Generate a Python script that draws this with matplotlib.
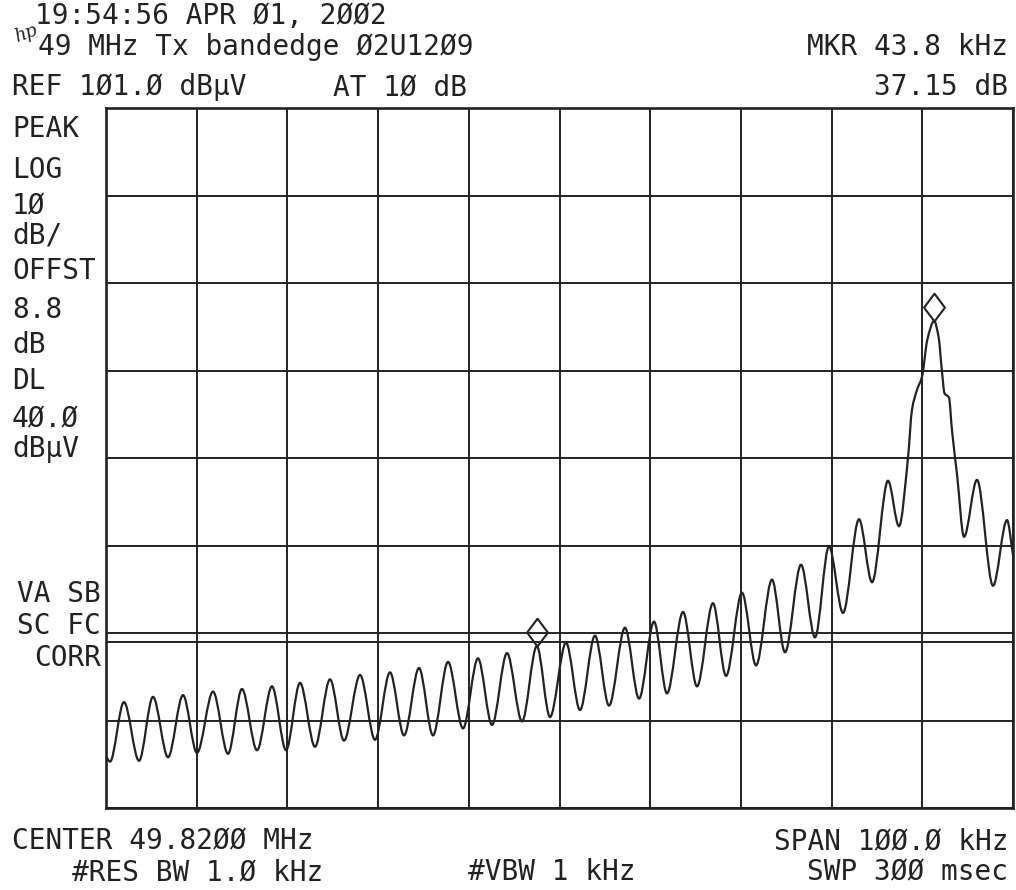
import numpy as np
import matplotlib
matplotlib.use("Agg")
import matplotlib.pyplot as plt
from matplotlib.path import Path
from matplotlib.patches import PathPatch
from matplotlib.markers import MarkerStyle

plt.rcParams['font.family'] = ['DejaVu Sans Mono', 'DejaVu Sans']

# screen settings (offset from centre frequency in kHz, level in dBuV)
span_khz = 100.0
ref_level = 101.0
db_per_div = 10.0
n_ydiv = 8
display_line = 40.0

# trace, extrema plus a few points around the main lobe
trace_freq = [-50.0, -49.56, -48.02, -46.36, -44.82, -43.16, -41.51, -39.97, -38.20, -36.55,
              -35.01, -33.35, -31.70, -30.15, -28.61, -26.96, -25.30, -23.76, -21.99, -20.34,
              -18.69, -17.14, -15.49, -13.95, -12.29, -10.64, -8.99, -7.44, -5.79, -4.13,
              -2.50, -1.05, 0.72, 2.26, 3.91, 5.46, 7.22, 8.77, 10.42, 11.85,
              13.62, 15.16, 16.92, 18.36, 20.12, 21.67, 23.43, 24.86, 26.63, 28.17,
              29.71, 31.26, 33.02, 34.46, 36.22, 37.43, 38.43, 38.86, 39.42, 39.97,
              40.55, 41.30, 41.80, 42.15, 42.45, 42.94, 43.27, 43.83, 44.60, 46.03,
              47.80, 49.34, 50.0]
trace_level = [26.9, 26.3, 33.1, 26.4, 33.7, 26.8, 33.9, 27.3, 34.3, 27.2,
               34.6, 27.6, 34.9, 27.6, 35.3, 28.0, 35.7, 28.7, 36.2, 28.8,
               36.5, 29.3, 37.0, 29.3, 37.7, 30.1, 38.1, 30.5, 38.7, 30.9,
               39.5, 31.4, 39.9, 32.2, 40.7, 32.7, 41.6, 33.5, 42.3, 34.1,
               43.4, 34.9, 44.4, 36.1, 45.6, 37.3, 47.1, 38.8, 48.8, 40.5,
               50.9, 43.3, 54.0, 46.8, 58.4, 53.2, 61.1, 66.5, 68.8, 70.3,
               74.5, 76.65, 74.8, 71.1, 68.4, 67.9, 64.2, 59.1, 52.0, 58.5,
               46.4, 53.9, 49.9]

# reference marker and delta marker (MKR 43.8 kHz, 37.15 dB)
marker_freq = [-2.50, 41.30]
marker_level = [39.5, 76.65]

W, H = 1016, 890


def smooth_path(xs, ys):
    # monotone cubic through the read points, drawn as bezier segments
    xs = np.asarray(xs, float)
    ys = np.asarray(ys, float)
    h = np.diff(xs)
    d = np.diff(ys) / h
    m = np.zeros_like(ys)
    for i in range(1, len(xs) - 1):
        if d[i - 1] * d[i] > 0:
            w1 = 2 * h[i] + h[i - 1]
            w2 = h[i] + 2 * h[i - 1]
            m[i] = (w1 + w2) / (w1 / d[i - 1] + w2 / d[i])
    m[0] = d[0]
    m[-1] = d[-1]
    verts = [(xs[0], ys[0])]
    codes = [Path.MOVETO]
    for i in range(len(xs) - 1):
        verts += [(xs[i] + h[i] / 3, ys[i] + m[i] * h[i] / 3),
                  (xs[i + 1] - h[i] / 3, ys[i + 1] - m[i + 1] * h[i] / 3),
                  (xs[i + 1], ys[i + 1])]
        codes += [Path.CURVE4] * 3
    return Path(verts, codes)


fig = plt.figure(figsize=(W / 100, H / 100), dpi=100)
fig.patch.set_facecolor('white')
ax = fig.add_axes([106 / W, 1 - 808 / H, (1013 - 106) / W, (808 - 108) / H])

ink = '#222222'
bottom = ref_level - n_ydiv * db_per_div
ax.set_xlim(-span_khz / 2, span_khz / 2)
ax.set_ylim(bottom, ref_level)
ax.set_xticks(np.arange(-span_khz / 2, span_khz / 2 + 1, span_khz / 10))
ax.set_yticks(np.arange(bottom, ref_level + 1, db_per_div))
ax.grid(True, color=ink, linewidth=1.4)
ax.tick_params(length=0, labelbottom=False, labelleft=False)
for s in ax.spines.values():
    s.set_color(ink)
    s.set_linewidth(1.9)

ax.axhline(display_line, color=ink, linewidth=1.4)

ax.add_patch(PathPatch(smooth_path(trace_freq, trace_level), fill=False,
                       edgecolor=ink, linewidth=1.6, zorder=3))

diamond = Path([(0, 0), (0.75, 1.0), (0, 2.0), (-0.75, 1.0), (0, 0)],
               [Path.MOVETO, Path.LINETO, Path.LINETO, Path.LINETO, Path.CLOSEPOLY])
ax.plot(marker_freq, marker_level, linestyle='none', marker=MarkerStyle(diamond),
        markersize=40, markerfacecolor='none', markeredgecolor=ink,
        markeredgewidth=1.5, zorder=4, clip_on=False)


def label(txt, x, y, ha='left', size=20):
    fig.text(x / W, 1 - y / H, txt, ha=ha, va='center', fontsize=size, color=ink)


# header
label('19:54:56 APR Ø1, 2ØØ2', 35, 16)
fig.text(12 / W, 1 - 34 / H, 'hp', fontsize=13, style='italic', family='DejaVu Serif',
         color=ink, ha='left', va='center', rotation=20)
label('49 MHz Tx bandedge Ø2U12Ø9', 38, 47)
label('MKR 43.8 kHz', 1008, 47, ha='right')
label('REF 1Ø1.Ø dBµV', 12, 87)
label('AT 1Ø dB', 333, 87)
label('37.15 dB', 1008, 87, ha='right')

# left annotation column
side = [('PEAK', 129), ('LOG', 170), ('1Ø', 206), ('dB/', 236), ('OFFST', 271),
        ('8.8', 310), ('dB', 345), ('DL', 381), ('4Ø.Ø', 419), ('dBµV', 449)]
for txt, y in side:
    label(txt, 12, y)
for txt, y in [('VA SB', 594), ('SC FC', 626), ('CORR', 658)]:
    label(txt, 101, y, ha='right')

# footer
label('CENTER 49.82ØØ MHz', 12, 841)
label('SPAN 1ØØ.Ø kHz', 1008, 841, ha='right')
label('#RES BW 1.Ø kHz', 72, 872)
label('#VBW 1 kHz', 468, 872)
label('SWP 3ØØ msec', 1008, 872, ha='right')

fig.savefig('out.png', dpi=100, facecolor='white')
